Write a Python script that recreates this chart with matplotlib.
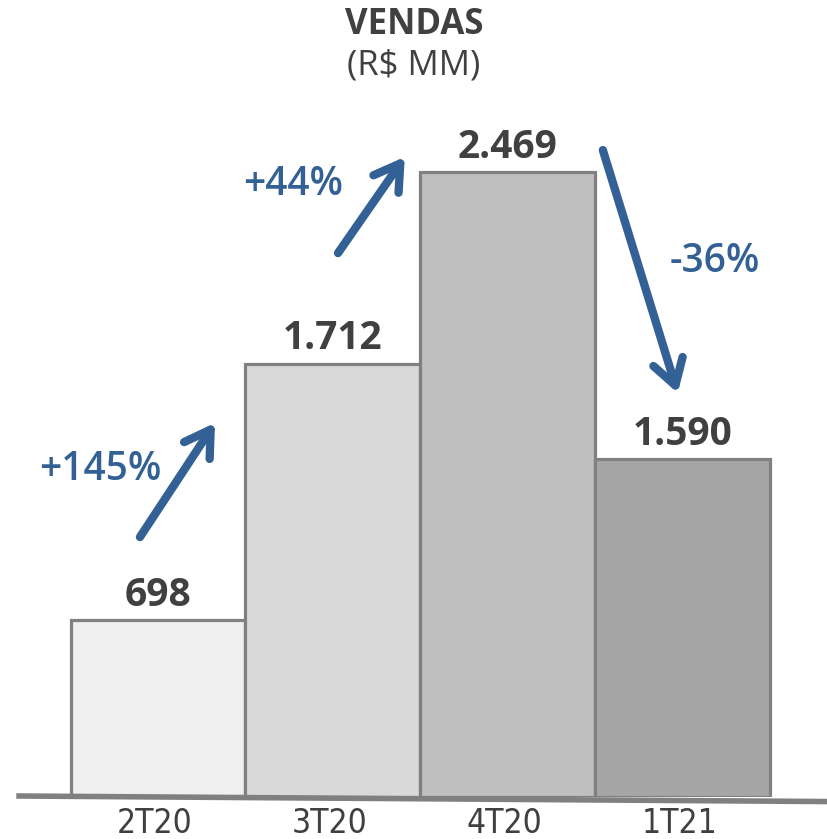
import matplotlib
matplotlib.use("Agg")
import matplotlib.pyplot as plt

categories = ["2T20", "3T20", "4T20", "1T21"]
values = [698, 1712, 2469, 1590]
# bar heights as drawn in the reference (last bar is drawn shorter than its label)
bar_heights = [698, 1712, 2469, 1335]
value_labels = ["698", "1.712", "2.469", "1.590"]
changes = ["+145%", "+44%", "-36%"]

bar_colors = ["#f0f0f0", "#d9d9d9", "#bfbfbf", "#a6a6a6"]
edge_color = "#808080"
text_color = "#404040"
blue = "#336195"

fig = plt.figure(figsize=(8.28, 8.39), dpi=100)
ax = fig.add_axes([0, 42 / 839, 1, 1 - 42 / 839])
ax.set_xlim(-0.903, 3.83)
ax.set_ylim(0, 3149)
ax.axis("off")

x = list(range(len(categories)))
ax.bar(x, bar_heights, width=1.0, color=bar_colors, edgecolor=edge_color,
       linewidth=2.3, zorder=2)

# baseline
ax.plot([-0.81, 3.83], [4, -18], color=edge_color, lw=4, zorder=3,
        solid_capstyle="butt", clip_on=False)

for xi, h, lab in zip(x, bar_heights, value_labels):
    ax.text(xi, h + 22, lab, ha="center", va="bottom", fontsize=28,
            fontweight="bold", color=text_color, family="Open Sans")

for xi, c in zip(x, categories):
    ax.text(xi - 0.02, -142, c, ha="center", va="baseline", fontsize=24,
            color=text_color, family="DejaVu Sans", fontstretch="condensed",
            clip_on=False)

# title
fig.text(0.5, 0.992, "VENDAS", ha="center", va="top", fontsize=25,
         fontweight="bold", color=text_color, family="Open Sans")
fig.text(0.5, 0.942, "(R$ MM)", ha="center", va="top", fontsize=25,
         color=text_color, family="Open Sans")

# growth arrows between consecutive bars
arrow_specs = [
    ((-0.103, 1027), (0.326, 1478)),
    ((1.029, 2149), (1.411, 2529)),
    ((2.543, 2556), (2.971, 1596)),
]
label_pos = [(-0.331, 1292), (0.771, 2418), (3.183, 2114)]

for (start, end), lab, lp in zip(arrow_specs, changes, label_pos):
    ax.annotate("", xy=end, xytext=start,
                arrowprops=dict(arrowstyle="->,head_length=0.9,head_width=0.55",
                                lw=6, color=blue, mutation_scale=20,
                                shrinkA=0, shrinkB=0), zorder=4)
    ax.text(lp[0], lp[1], lab, ha="center", va="center", fontsize=28,
            fontweight="semibold", color=blue, family="Open Sans")

fig.savefig("out.png", dpi=100)
